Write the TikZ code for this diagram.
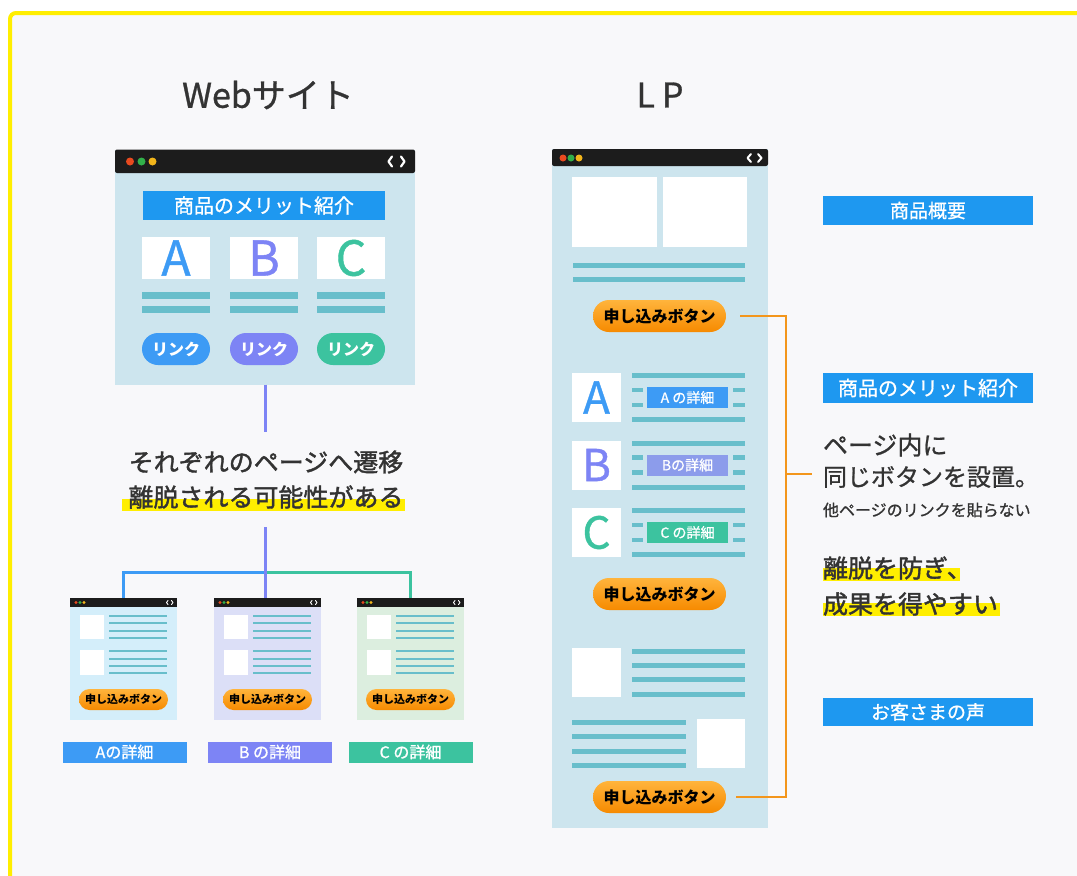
\documentclass[tikz,border=0pt]{standalone}
\usepackage{fontspec}
\setmainfont{Noto Sans CJK JP}
\newfontfamily\medf{Noto Sans CJK JP}[FakeBold=0.9]
\newfontfamily\semif{Noto Sans CJK JP}[FakeBold=1.6]
\usetikzlibrary{calc}
\definecolor{barc}{HTML}{1C1C1C}
\definecolor{bodyc}{HTML}{CDE5EE}
\definecolor{tealc}{HTML}{68BECB}
\definecolor{bannerc}{HTML}{1E98F0}
\definecolor{cA}{HTML}{3D9BF5}
\definecolor{cB}{HTML}{7D84F5}
\definecolor{cBl}{HTML}{8C9CEB}
\definecolor{cC}{HTML}{3CC39F}
\definecolor{winAc}{HTML}{D4EEFA}
\definecolor{winBc}{HTML}{DCDFF7}
\definecolor{winCc}{HTML}{DCEEDF}
\definecolor{btnT}{HTML}{FFB43C}
\definecolor{btnB}{HTML}{F68A00}
\definecolor{olc}{HTML}{F3961C}
\definecolor{ylw}{HTML}{FFEE00}
\definecolor{textc}{HTML}{333333}
\definecolor{bgc}{HTML}{F8F8FA}
\definecolor{dR}{HTML}{E84A1F}
\definecolor{dG}{HTML}{31B04A}
\definecolor{dY}{HTML}{F2B51B}
\newcommand\fsz[1]{\fontsize{#1}{#1}\selectfont}
\tikzset{
  body/.style={fill=bodyc},
  wbox/.style={fill=white},
  banner/.style={fill=bannerc, text=white, font=\fsz{20}\medf},
  linkpill/.style={fill=#1, text=white, font=\fsz{16}\bfseries, minimum width=68pt, minimum height=32pt, rounded corners=16pt},
  btn/.style={top color=btnT, bottom color=btnB, text=black, font=\fsz{16}\bfseries, minimum width=133pt, minimum height=32pt, rounded corners=16pt},
  sbtn/.style={top color=btnT, bottom color=btnB, text=black, font=\fsz{11}\bfseries, minimum width=89pt, minimum height=21pt, rounded corners=10.5pt},
  lab/.style={fill=#1, text=white, font=\fsz{16}\medf, minimum width=124pt, minimum height=21pt},
  llab/.style={fill=#1, text=white, font=\fsz{14}\medf, minimum width=81pt, minimum height=21pt},
  rlab/.style={fill=bannerc, text=white, font=\fsz{19}\medf, minimum width=210pt, minimum height=29pt},
  conn/.style={draw=#1, line width=3pt},
  oline/.style={draw=olc, line width=2.5pt},
  chev/.style={draw=white, line width=#1, line cap=round, line join=round},
  swin/.style={fill=#1, minimum width=107pt, minimum height=122pt},
  smallin/.pic={
    \fill[barc] (0,0) rectangle (107,9);
    \fill[dR] (6,4.5) circle[radius=1.6pt];
    \fill[dG] (10,4.5) circle[radius=1.6pt];
    \fill[dY] (14,4.5) circle[radius=1.6pt];
    \draw[chev=0.9pt] (98,2.5) -- (96.5,4.5) -- (98,6.5);
    \draw[chev=0.9pt] (101.5,2.5) -- (103,4.5) -- (101.5,6.5);
    \fill[white] (10,17) rectangle (34,41);
    \fill[white] (10,52) rectangle (34,77);
    \foreach \yy in {18,25,33,40,53,61,68,75}{
      \fill[tealc] (39,\yy-1.3) rectangle (97,\yy+1.3);
    }
  }
}
\begin{document}
\begin{tikzpicture}[x=1pt,y=-1pt, every node/.style={inner sep=0pt, outer sep=0pt}]
\useasboundingbox (0,0) rectangle (1077,876);
\fill[white] (0,0) rectangle (1077,876);
\fill[bgc, rounded corners=6pt] (10,13) rectangle (1095,895);
\draw[ylw, line width=4pt, rounded corners=6pt] (1095,13) -- (10,13) -- (10,895);

% titles
\node[text=textc, font=\fsz{34}\medf] (t1) at (268,95) {Webサイト};
\node[text=textc, font=\fsz{34}\medf] (t2) at (660,95) {L\hspace{7pt}P};

% ---------- website browser ----------
\node[body, minimum width=300pt, minimum height=235pt] (web) at (265,267) {};
\fill[barc, rounded corners=2pt] (115,149.5) rectangle (415,173);
\fill[dR] (130,161.5) circle[radius=4pt];
\fill[dG] (141.5,161.5) circle[radius=4pt];
\fill[dY] (152.5,161.5) circle[radius=4pt];
\draw[chev=2.2pt] (392,156.5) -- (388.5,161.5) -- (392,166.5);
\draw[chev=2.2pt] (401,156.5) -- (404.5,161.5) -- (401,166.5);
\node[banner, minimum width=242pt, minimum height=29pt] (bn1) at (264,205.5) {商品のメリット紹介};
\node[wbox, minimum width=68pt, minimum height=42pt, text=cA, font=\fsz{48}\medf] (la) at (176,258) {A};
\node[wbox, minimum width=68pt, minimum height=42pt, text=cB, font=\fsz{48}\medf] (lbb) at (264,258) {B};
\node[wbox, minimum width=68pt, minimum height=42pt, text=cC, font=\fsz{48}\medf] (lc) at (351,258) {C};
\foreach \cx in {176,264,351}{
  \fill[tealc] (\cx-34,292) rectangle (\cx+34,298.5);
  \fill[tealc] (\cx-34,306) rectangle (\cx+34,313);
}
\node[linkpill=cA] (lkA) at (176,349) {リンク};
\node[linkpill=cB] (lkB) at (264,349) {リンク};
\node[linkpill=cC] (lkC) at (351,349) {リンク};

% message
\fill[ylw] (122,499) rectangle (405,511);
\node[text=textc, font=\fsz{25}\semif] (msg1) at (266,462) {それぞれのページへ遷移};
\node[text=textc, font=\fsz{25}\semif] (msg2) at (266,497) {離脱される可能性がある};

% small windows
\node[swin=winAc] (winA) at (123.5,659) {};
\node[swin=winBc] (winB) at (267.5,659) {};
\node[swin=winCc] (winC) at (410.5,659) {};
\pic at (winA.north west) {smallin};
\pic at (winB.north west) {smallin};
\pic at (winC.north west) {smallin};
\node[sbtn] (sbA) at (123.5,699.5) {申し込みボタン};
\node[sbtn] (sbB) at (267.5,699.5) {申し込みボタン};
\node[sbtn] (sbC) at (410.5,699.5) {申し込みボタン};
\node[lab=cA] (labA) at (124.5,752) {Aの詳細};
\node[lab=cB] (labB) at (270,752) {B の詳細};
\node[lab=cC] (labC) at (410.5,752) {C の詳細};

% connectors
\coordinate (m1) at (265,432);
\coordinate (m2) at (265,527);
\coordinate (jn) at (265,572);
\draw[conn=cB] (web.south) -- (m1);
\draw[conn=cA] (jn) -| (winA.north);
\draw[conn=cC] (jn) -| (winC.north);
\draw[conn=cB] (m2) -- (m2 |- winB.north);

% ---------- LP browser ----------
\node[body, minimum width=216pt, minimum height=679pt] (lp) at (660,488.5) {};
\fill[barc, rounded corners=2pt] (552,149) rectangle (768,166);
\fill[dR] (563,158) circle[radius=3.5pt];
\fill[dG] (571,158) circle[radius=3.5pt];
\fill[dY] (579,158) circle[radius=3.5pt];
\draw[chev=2pt] (751,154) -- (747.5,158) -- (751,162);
\draw[chev=2pt] (758,154) -- (761.5,158) -- (758,162);
\fill[white] (572,177) rectangle (656.5,246.5);
\fill[white] (662.5,177) rectangle (747,246.5);
\fill[tealc] (573,263) rectangle (745,268);
\fill[tealc] (573,277) rectangle (745,282);
\node[btn] (lb1) at (659.5,316) {申し込みボタン};

\foreach \yc/\L/\c/\lc/\t in {397.5/A/cA/cA/A の詳細, 465/B/cB/cBl/Bの詳細, 532.5/C/cC/cC/C の詳細}{
  \node[wbox, minimum width=49pt, minimum height=49pt, text=\c, font=\fsz{44}\medf] (lr\L) at (596.5,\yc) {\L};
  \fill[tealc] (632,\yc-24.5) rectangle (745,\yc-19.5);
  \fill[tealc] (632,\yc+19.5) rectangle (745,\yc+24.5);
  \fill[tealc] (632,\yc-10) rectangle (643,\yc-5.5);
  \fill[tealc] (733,\yc-10) rectangle (745,\yc-5.5);
  \fill[tealc] (632,\yc+5) rectangle (643,\yc+9.5);
  \fill[tealc] (733,\yc+5) rectangle (745,\yc+9.5);
  \node[llab=\lc] (ll\L) at (687.5,\yc) {\t};
}
\node[btn] (lb2) at (659.5,594) {申し込みボタン};

\fill[white] (572,648) rectangle (621,697);
\foreach \yy in {651,665,679,694}{
  \fill[tealc] (632,\yy-2.5) rectangle (745,\yy+2.5);
}
\foreach \yy in {722,736,751,765}{
  \fill[tealc] (572,\yy-2.5) rectangle (686,\yy+2.5);
}
\fill[white] (697,719) rectangle (745,768);
\node[btn] (lb3) at (659.5,797) {申し込みボタン};

% bracket
\coordinate (bt) at (786,316);
\coordinate (bb) at (786,797);
\coordinate (bm) at (786,474);
\coordinate (bmr) at (812,474);
\draw[oline, line join=miter] ([xshift=14pt]lb1.east) -- (bt) -- (bb) -- ([xshift=10pt]lb3.east);
\draw[oline] (bm) -- (bmr);

% right column
\node[rlab] (ov) at (928,210.5) {商品概要};
\node[rlab, minimum height=30pt, font=\fsz{20}\medf] (mer) at (928,388) {商品のメリット紹介};
\node[rlab, minimum height=28pt] (voice) at (928,712) {お客さまの声};

\node[anchor=west, text=textc, font=\fsz{25}\medf] (r1) at (823,445) {ページ内に};
\node[anchor=west, text=textc, font=\fsz{24}\medf] (r2) at (823,477) {同じボタンを設置。};
\node[anchor=west, text=textc, font=\fsz{16}\medf] (r3) at (823,510) {他ページのリンクを貼らない};
\fill[ylw] (823,568) rectangle (960,581);
\fill[ylw] (823,603) rectangle (1000,616);
\node[anchor=west, text=textc, font=\fsz{25}\semif] (r4) at (823,568) {離脱を防ぎ、};
\node[anchor=west, text=textc, font=\fsz{25}\semif] (r5) at (823,604) {成果を得やすい};
\end{tikzpicture}
\end{document}
